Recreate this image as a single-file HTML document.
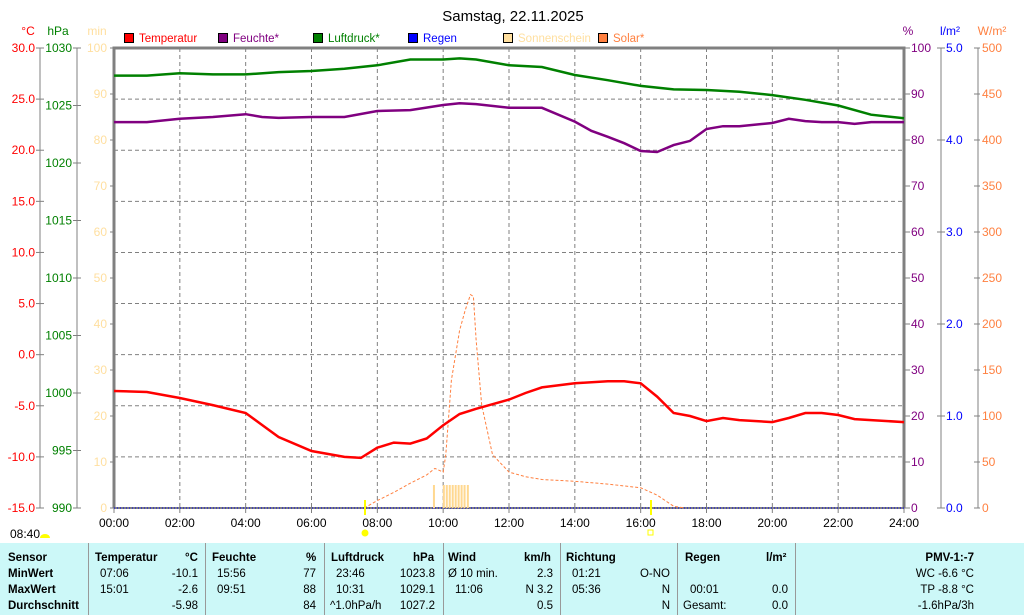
<!DOCTYPE html>
<html><head><meta charset="utf-8"><style>
body{margin:0;background:#fff;width:1024px;height:615px;overflow:hidden;font-family:"Liberation Sans",sans-serif}
svg{position:absolute;left:0;top:0}
text{font-family:"Liberation Sans",sans-serif}
#tbl{position:absolute;left:0;top:543px;width:1024px;height:72px;background:#ccf8f8;font-size:11.5px;color:#000}
.c{position:absolute;white-space:nowrap;margin-top:3px}
.b{font-weight:bold}
.sep{position:absolute;top:0;width:1px;height:72px;background:#999}
</style></head><body>
<svg id="chart" width="1024" height="615"></svg>
<div id="tbl">
<div class="sep" style="left:88px"></div><div class="sep" style="left:205px"></div><div class="sep" style="left:324px"></div><div class="sep" style="left:443px"></div><div class="sep" style="left:560px"></div><div class="sep" style="left:677px"></div><div class="sep" style="left:795px"></div>
<div class="c b" style="left:8px;top:6px">Sensor</div><div class="c b" style="left:8px;top:22px">MinWert</div><div class="c b" style="left:8px;top:38px">MaxWert</div><div class="c b" style="left:8px;top:54px">Durchschnitt</div>
<div class="c b" style="left:95px;top:6px">Temperatur</div><div class="c b" style="left:185px;top:6px">°C</div>
<div class="c" style="left:100px;top:22px">07:06</div><div class="c" style="right:826px;top:22px">-10.1</div>
<div class="c" style="left:100px;top:38px">15:01</div><div class="c" style="right:826px;top:38px">-2.6</div>
<div class="c" style="right:826px;top:54px">-5.98</div>
<div class="c b" style="left:212px;top:6px">Feuchte</div><div class="c b" style="left:306px;top:6px">%</div>
<div class="c" style="left:217px;top:22px">15:56</div><div class="c" style="right:708px;top:22px">77</div>
<div class="c" style="left:217px;top:38px">09:51</div><div class="c" style="right:708px;top:38px">88</div>
<div class="c" style="right:708px;top:54px">84</div>
<div class="c b" style="left:331px;top:6px">Luftdruck</div><div class="c b" style="left:413px;top:6px">hPa</div>
<div class="c" style="left:336px;top:22px">23:46</div><div class="c" style="right:589px;top:22px">1023.8</div>
<div class="c" style="left:336px;top:38px">10:31</div><div class="c" style="right:589px;top:38px">1029.1</div>
<div class="c" style="left:330px;top:54px">^1.0hPa/h</div><div class="c" style="right:589px;top:54px">1027.2</div>
<div class="c b" style="left:448px;top:6px">Wind</div><div class="c b" style="left:524px;top:6px">km/h</div>
<div class="c" style="left:448px;top:22px">Ø 10 min.</div><div class="c" style="right:471px;top:22px">2.3</div>
<div class="c" style="left:455px;top:38px">11:06</div><div class="c" style="right:471px;top:38px">N 3.2</div>
<div class="c" style="right:471px;top:54px">0.5</div>
<div class="c b" style="left:566px;top:6px">Richtung</div>
<div class="c" style="left:572px;top:22px">01:21</div><div class="c" style="right:354px;top:22px">O-NO</div>
<div class="c" style="left:572px;top:38px">05:36</div><div class="c" style="right:354px;top:38px">N</div>
<div class="c" style="right:354px;top:54px">N</div>
<div class="c b" style="left:685px;top:6px">Regen</div><div class="c b" style="left:766px;top:6px">l/m²</div>
<div class="c" style="left:690px;top:38px">00:01</div><div class="c" style="right:236px;top:38px">0.0</div>
<div class="c" style="left:683px;top:54px">Gesamt:</div><div class="c" style="right:236px;top:54px">0.0</div>
<div class="c b" style="right:50px;top:6px">PMV-1:-7</div>
<div class="c" style="right:50px;top:22px">WC -6.6 °C</div>
<div class="c" style="right:50px;top:38px">TP -8.8 °C</div>
<div class="c" style="right:50px;top:54px">-1.6hPa/3h</div>
</div>
<script>
const tempHours=[0,1,2,3,4,4.5,5,6,7,7.5,8,8.5,9,9.5,10,10.5,11,12,12.5,13,14,15,15.5,16,16.5,17,17.5,18,18.5,19,20,20.5,21,21.5,22,22.5,23,24];
const tempVals=[-3.55,-3.65,-4.24,-4.93,-5.71,-6.88,-8.05,-9.42,-10.0,-10.1,-9.1,-8.6,-8.7,-8.2,-6.9,-5.8,-5.3,-4.4,-3.75,-3.2,-2.8,-2.6,-2.6,-2.8,-4.1,-5.71,-6.0,-6.5,-6.2,-6.4,-6.6,-6.2,-5.71,-5.71,-5.9,-6.3,-6.4,-6.6];
const humHours=[0,1,2,3,4,4.5,5,6,7,8,9,10,10.5,11,12,13,14,14.5,15,15.5,16,16.5,17,17.5,18,18.5,19,20,20.5,21,21.5,22,22.5,23,24];
const humVals=[83.9,83.9,84.6,85,85.6,85,84.8,85,85,86.3,86.5,87.6,88,87.8,87,87,84,82,80.7,79.3,77.6,77.4,78.9,79.8,82.4,83,83,83.7,84.6,84.1,83.9,83.9,83.5,83.9,83.9];
const presHours=[0,1,2,3,4,5,6,7,8,9,10,10.5,11,12,13,14,15,16,17,18,19,20,21,22,23,24];
const presVals=[1027.6,1027.6,1027.8,1027.7,1027.7,1027.9,1028.0,1028.2,1028.5,1029.0,1029.0,1029.1,1029.0,1028.5,1028.35,1027.65,1027.2,1026.7,1026.4,1026.35,1026.2,1025.9,1025.5,1025.0,1024.2,1023.9];
const solarHours=[7.6,8,8.5,9,9.5,9.75,10,10.08,10.25,10.5,10.67,10.83,10.92,11,11.17,11.5,12,12.5,13,14,15,16,16.5,17,17.33];
const solarVals=[0,8,17,27,36,43,39,58,139,193,215,232,230,183,112,58,39,34,31,29,26,22,14,2,0];
const sunHours=[9.72,10.02,10.11,10.2,10.29,10.38,10.47,10.56,10.65,10.75];
const sunMins=[5,5,5,5,5,5,5,5,5,5];
const xTicks=["00:00","02:00","04:00","06:00","08:00","10:00","12:00","14:00","16:00","18:00","20:00","22:00","24:00"];
const tempTicks=[30,25,20,15,10,5,0,-5,-10,-15];
const presTicks=[1030,1025,1020,1015,1010,1005,1000,995,990];
const minTicks=[100,90,80,70,60,50,40,30,20,10,0];
const humTicks=[100,90,80,70,60,50,40,30,20,10,0];
const rainTicks=[5,4,3,2,1,0];
const solarTicks=[500,450,400,350,300,250,200,150,100,50,0];

const L=114,R=904,T=48,B=508,H=B-T;
const xs=h=>L+h*(R-L)/24;
const yT=v=>T+(30-v)*H/45;
const yP=v=>T+(1030-v)*H/40;
const yM=v=>T+(100-v)*H/100;
const yH=v=>T+(100-v)*H/100;
const yR=v=>T+(5-v)*H/5;
const yS=v=>T+(500-v)*H/500;
const svg=document.getElementById('chart');const NS='http://www.w3.org/2000/svg';
function mk(tag,a,p){const e=document.createElementNS(NS,tag);for(const k in a)e.setAttribute(k,a[k]);(p||svg).appendChild(e);return e;}
function txt(s,x,y,fill,anchor,size){const e=mk('text',{x:x,y:y,fill:fill,'text-anchor':anchor||'start','font-size':size||12});e.textContent=s;return e;}

let t=txt('Samstag, 22.11.2025',513,21,'#000','middle',15);



xTicks.forEach((s,i)=>{const x=xs(i*2);
 if(i>0&&i<12){const g=mk('line',{x1:x,y1:T,x2:x,y2:B,stroke:'#808080','stroke-dasharray':'4,3'});}
 mk('line',{x1:x,y1:B,x2:x,y2:B+5,stroke:'#808080'});
 const l=txt(s,x,527,'#000','middle',12);});
tempTicks.forEach(v=>{const y=yT(v);
 if(v<30&&v>-15){const g=mk('line',{x1:L,y1:y,x2:R,y2:y,stroke:'#808080','stroke-dasharray':'4,3'});}
 mk('line',{x1:36,y1:y,x2:44,y2:y,stroke:'#808080'});
 const l=txt(v.toFixed(1),35,y+4,'#f00','end',12);});
mk('line',{x1:40,y1:T,x2:40,y2:B,stroke:'#808080'});
presTicks.forEach(v=>{const y=yP(v);mk('line',{x1:73,y1:y,x2:81,y2:y,stroke:'#808080'});
 const l=txt(String(v),72,y+4,'#008000','end',12);});
mk('line',{x1:77,y1:T,x2:77,y2:B,stroke:'#808080'});
minTicks.forEach(v=>{const y=yM(v);mk('line',{x1:110,y1:y,x2:114,y2:y,stroke:'#808080'});
 const l=txt(String(v),107,y+4,'#ffdf9f','end',12);});
humTicks.forEach(v=>{const y=yH(v);mk('line',{x1:904,y1:y,x2:910,y2:y,stroke:'#808080'});
 const l=txt(String(v),911,y+4,'#800080','start',12);});
rainTicks.forEach(v=>{const y=yR(v);mk('line',{x1:937,y1:y,x2:945,y2:y,stroke:'#808080'});
 const l=txt(v.toFixed(1),946,y+4,'#0000ff','start',12);});
mk('line',{x1:941,y1:T,x2:941,y2:B,stroke:'#808080'});
solarTicks.forEach(v=>{const y=yS(v);mk('line',{x1:974,y1:y,x2:980,y2:y,stroke:'#808080'});
 const l=txt(String(v),982,y+4,'#ff8040','start',12);});
mk('line',{x1:978,y1:T,x2:978,y2:B,stroke:'#808080'});
[['°C',28,'#f00'],['hPa',58,'#008000'],['min',97,'#ffdf9f'],['%',908,'#800080'],['l/m²',950,'#0000ff'],['W/m²',992,'#ff8040']].forEach(u=>{const l=txt(u[0],u[1],35,u[2],'middle',12);});
mk('path',{d:`M${L},${B} L${L},${T} L${R},${T} L${R},${B}`,fill:'none',stroke:'#808080','stroke-width':3});
mk('line',{x1:L,y1:B,x2:R,y2:B,stroke:'#808080','stroke-width':2});
mk('line',{x1:L,y1:B,x2:R,y2:B,stroke:'#0000ff','stroke-dasharray':'1,2'});
sunHours.forEach((h,i)=>{const y=yM(sunMins[i]);const r=mk('rect',{x:xs(h)-1,y:y,width:2,height:B-y,fill:'#ffd890'});
 });
function line(hs,vs,yf,col,w,dash,name){const d=hs.map((h,i)=>(i?'L':'M')+xs(h).toFixed(1)+','+yf(vs[i]).toFixed(1)).join(' ');
 const p=mk('path',{d:d,fill:'none',stroke:col,'stroke-width':w});if(dash)p.setAttribute('stroke-dasharray',dash);
 }
line(solarHours,solarVals,yS,'#ff8040',1,'3,2','solar-line');
line(presHours,presVals,yP,'#008000',2.5,null,'pressure-line');
line(humHours,humVals,yH,'#800080',2.5,null,'humidity-line');
line(tempHours,tempVals,yT,'#ff0000',2.5,null,'temperature-line');
mk('rect',{x:364,y:500,width:2,height:15,fill:'#ffff00'});
mk('rect',{x:650,y:500,width:2,height:15,fill:'#ffff00'});
mk('circle',{cx:365,cy:533,r:3.5,fill:'#ffff00'});
mk('rect',{x:648,y:530,width:5,height:5,fill:'none',stroke:'#ffff00'});
txt('08:40',10,538,'#000','start',12);
mk('path',{d:'M40,538 A5,4 0 0 1 50,538 Z',fill:'#ffff00'});
[['Temperatur','#ff0000',124],['Feuchte*','#800080',218],['Luftdruck*','#008000',313],['Regen','#0000ff',408],['Sonnenschein','#ffdf9f',503],['Solar*','#ff8040',598]].forEach(e=>{
 const g=mk('g',{});
 mk('rect',{x:e[2]+0.5,y:33.5,width:9,height:9,fill:e[1],stroke:'#000'},g);
 const l=mk('text',{x:e[2]+15,y:42,fill:e[1],'font-size':11.5},g);l.textContent=e[0];});
</script>
</body></html>
